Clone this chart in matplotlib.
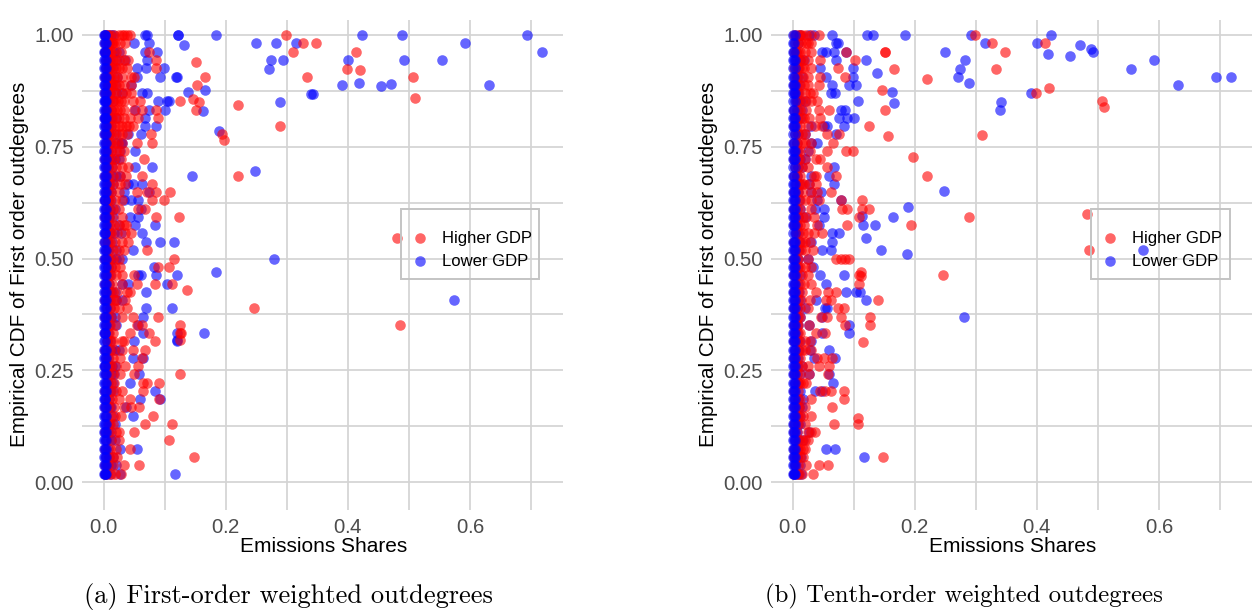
import matplotlib
matplotlib.use("Agg")
import matplotlib.pyplot as plt
from matplotlib.patches import Rectangle
from matplotlib.lines import Line2D

W, H = 1255, 616
cdf_levels = [1.000, 0.981, 0.963, 0.944, 0.926, 0.907, 0.889, 0.870, 0.852, 0.833, 0.815, 0.796, 0.778, 0.759,
              0.741, 0.722, 0.704, 0.685, 0.667, 0.648, 0.630, 0.611, 0.593, 0.574, 0.556, 0.537, 0.519,
              0.500, 0.481, 0.463, 0.444, 0.426, 0.407, 0.389, 0.370, 0.352, 0.333, 0.315, 0.296, 0.278,
              0.259, 0.241, 0.222, 0.204, 0.185, 0.167, 0.148, 0.130, 0.111, 0.093, 0.074, 0.056, 0.037, 0.019]
x_ticks = [0.0, 0.2, 0.4, 0.6]
y_ticks = [0.00, 0.25, 0.50, 0.75, 1.00]
y_tick_labels = ["0.00", "0.25", "0.50", "0.75", "1.00"]

# panel (a): the dense cloud, row by row, highest CDF level first
a_high = [
 [.001,.004,.007,.01,.016,.024,.03,.032,.037,.043],
 [.002,.006,.008,.011,.013,.015,.018,.026,.035],
 [.001,.003,.005,.007,.01,.012,.02,.028,.073],
 [.004,.007,.01,.014,.018,.024,.032,.04,.086],
 [.003,.006,.01,.013,.02,.025,.029,.038,.086],
 [.002,.005,.009,.012,.016,.022,.03,.045,.05],
 [.005,.008,.012,.015,.02,.024,.033,.045],
 [.002,.006,.01,.014,.02,.029,.036,.045],
 [.004,.008,.014,.018,.023,.028,.032,.059,.047],
 [.003,.007,.012,.016,.021,.027,.032,.05,.062,.086],
 [.002,.009,.013,.02,.024,.032,.043,.056,.088],
 [.004,.008,.011,.018,.024,.03,.036,.048,.041],
 [.001,.005,.008,.012,.017,.03,.037,.077,.025],
 [.003,.006,.011,.016,.023,.054,.079,.03],
 [.003,.006,.012,.02,.033,.024],
 [.002,.007,.012,.016,.028,.066],
 [.004,.007,.013,.02,.04,.03],
 [.001,.009,.014,.026,.062,.036],
 [.005,.01,.015,.026,.035,.078],
 [.003,.008,.012,.025,.054,.07,.086,.108],
 [.002,.006,.01,.018,.078,.099,.03],
 [.004,.009,.014,.024,.056,.067],
 [.001,.008,.013,.03,.086,.123],
 [.005,.01,.017,.032,.036,.025],
 [.003,.008,.012,.034,.045,.022],
 [.002,.007,.01,.029,.04,.018],
 [.004,.009,.015,.032,.07,.024],
 [.001,.006,.009,.024,.114,.015],
 [.006,.011,.018,.026,.089,.107],
 [.003,.007,.012,.029,.02,.05],
 [.002,.008,.013,.054,.084,.111,.03],
 [.004,.009,.014,.037,.043,.022],
 [.001,.01,.016,.034,.02],
 [.005,.01,.016,.037,.024],
 [.002,.007,.012,.089,.048,.029],
 [.003,.01,.018,.054,.062,.125],
 [.001,.009,.015,.042,.073,.126],
 [.005,.011,.015,.029,.084,.032],
 [.002,.01,.017,.029,.047,.067],
 [.004,.009,.014,.026,.062],
 [.001,.007,.012,.034,.055,.02],
 [.003,.009,.015,.026,.049,.125],
 [.005,.011,.016,.064,.07,.09],
 [.002,.011,.02,.029,.064],
 [.004,.009,.013,.024,.042,.09],
 [.001,.008,.016,.032,.058,.045],
 [.003,.011,.018,.081,.028],
 [.006,.01,.014,.067,.111],
 [.002,.009,.019,.05,.024],
 [.004,.012,.025,.107],
 [.001,.01,.02,.042],
 [.003,.008,.021,.015],
 [.002,.006,.015,.032,.057],
 [.001,.005,.012,.028,.018],
]
a_low = [
 [0,.001,.002,.006,.012,.015,.067,.07,.121],
 [0,.002,.003,.008,.049,.074],
 [0,.001,.002,.007,.016,.024,.067,.087],
 [0,.002,.004,.009,.034,.071,.02],
 [0,.001,.003,.008,.014,.054,.069,.098],
 [0,.002,.003,.009,.054,.092,.118,.022],
 [0,.001,.002,.006,.012,.018,.045],
 [0,.002,.004,.01,.03,.062,.07,.02],
 [0,.001,.002,.003,.007,.014,.089,.104,.107],
 [0,.001,.003,.005,.011,.051,.074,.1],
 [0,.001,.002,.003,.006,.011,.067,.02],
 [0,.001,.003,.007,.012,.067,.085],
 [0,.002,.004,.008,.04,.06,.02],
 [0,.002,.004,.01,.02,.028,.03],
 [0,.001,.003,.006,.051,.026,.012],
 [0,.001,.003,.008,.012,.024,.018],
 [0,.002,.004,.007,.051,.078,.013],
 [0,.001,.003,.005,.013,.026,.02],
 [0,.001,.003,.008,.014,.04,.048,.062],
 [0,.002,.003,.006,.012,.032,.074],
 [0,.001,.002,.006,.011,.045,.055,.032],
 [0,.002,.004,.01,.018,.06],
 [0,.001,.003,.008,.014,.043,.056],
 [0,.002,.003,.008,.024,.084,.051],
 [0,.001,.002,.01,.017,.062,.028],
 [0,.002,.005,.013,.069,.092,.114],
 [0,.001,.003,.007,.048,.02],
 [0,.001,.003,.011,.02,.03],
 [0,.002,.004,.006,.012,.082],
 [0,.001,.004,.01,.086,.12,.06,.056],
 [0,.002,.004,.009,.104,.04,.029],
 [0,.001,.003,.012,.069,.018],
 [0,.002,.004,.007,.02,.03],
 [0,.001,.004,.01,.069,.112],
 [0,.001,.003,.012,.064,.018],
 [0,.002,.003,.008,.055,.02],
 [0,.001,.002,.006,.12,.064],
 [0,.002,.005,.01,.049,.12],
 [0,.001,.003,.012,.024,.018],
 [0,.002,.003,.007,.064,.048],
 [0,.001,.002,.009,.018,.013],
 [0,.002,.004,.011,.058,.017],
 [0,.001,.003,.007,.042,.014],
 [0,.002,.003,.01,.083,.015],
 [0,.001,.002,.008,.059,.092],
 [0,.001,.004,.012,.036,.01],
 [0,.001,.003,.014,.047],
 [0,.001,.003,.009,.018],
 [0,.002,.004,.006,.012],
 [0,.002,.004,.011,.018],
 [0,.001,.004,.007,.027,.054],
 [0,.001,.003,.008,.015],
 [0,.002,.003,.005,.012,.02],
 [0,.001,.002,.004,.01,.027,.117],
]
# panel (a): points away from the cloud
a_high_tail_x = [.298,.326,.348,.309,.413,.420,.398,.332,.151,.166,.152,.507,.510,.146,.155,.124,.151,.219,.288,.193,.197,.219,.480,.485,.246,.125,.125,.136,.147]
a_high_tail_y = [1.0,.981,.981,.963,.963,.922,.925,.907,.940,.905,.889,.907,.860,.857,.849,.852,.832,.843,.796,.778,.764,.685,.545,.352,.389,.333,.318,.430,.056]
a_low_tail_x = [.122,.184,.131,.423,.489,.693,.591,.718,.249,.282,.315,.273,.293,.271,.400,.491,.554,.390,.417,.454,.471,.630,.339,.342,.289,.119,.137,.165,.162,.189,.248,.145,.279,.184,.574,.164,.120]
a_low_tail_y = [1.0,1.0,.978,1.0,1.0,1.0,.981,.963,.981,.981,.981,.944,.944,.925,.944,.944,.944,.889,.893,.886,.890,.889,.869,.868,.851,.907,.872,.878,.829,.786,.695,.685,.500,.470,.407,.333,.318]

# panel (b)
b_high = [
 [.002,.005,.01,.015,.022,.03,.043,.012],
 [.004,.008,.013,.021,.029,.025],
 [.002,.005,.008,.012,.02,.087,.03],
 [.005,.009,.012,.017,.024,.045,.101],
 [.001,.006,.01,.014,.018,.03,.073],
 [.004,.009,.016,.024,.045,.086],
 [.002,.007,.012,.018,.025,.042],
 [.003,.007,.01,.02,.033,.028],
 [.005,.009,.015,.029,.04,.022],
 [.002,.008,.012,.022,.043,.059],
 [.004,.008,.014,.018,.026,.045],
 [.001,.006,.012,.024,.048,.036],
 [.003,.009,.014,.02,.056,.075],
 [.002,.007,.014,.03,.066,.02],
 [.004,.008,.012,.028,.056,.087,.099],
 [.001,.006,.01,.02,.037,.045],
 [.003,.009,.015,.024,.055],
 [.002,.007,.012,.034,.07,.037],
 [.005,.01,.018,.026,.038,.014],
 [.001,.008,.014,.029,.063,.04],
 [.004,.011,.02,.043,.078,.03],
 [.002,.006,.012,.03,.08,.089,.113],
 [.003,.009,.022,.108,.016,.035],
 [.001,.007,.012,.018,.089,.04],
 [.005,.01,.016,.034,.048,.024],
 [.002,.01,.02,.028,.015],
 [.004,.008,.013,.032,.02],
 [.001,.006,.009,.025,.078,.091,.07,.086],
 [.003,.008,.012,.02,.03],
 [.002,.007,.014,.108,.024],
 [.004,.011,.018,.108,.03],
 [.001,.008,.014,.037,.057,.07],
 [.003,.008,.013,.062,.054,.028],
 [.002,.006,.011,.073,.084,.024],
 [.005,.009,.012,.046,.055,.078],
 [.001,.006,.009,.026,.086],
 [.003,.008,.012,.037,.053],
 [.002,.006,.01,.028,.02],
 [.004,.009,.014,.03,.02],
 [.001,.007,.012,.064,.051,.04],
 [.003,.009,.059,.043,.025,.015],
 [.002,.007,.011,.026,.058],
 [.004,.008,.012,.021,.016],
 [.001,.008,.045,.053,.062,.084],
 [.003,.008,.012,.029,.083],
 [.002,.006,.01,.064,.02],
 [.004,.009,.012,.029,.016],
 [.001,.009,.067,.107,.02],
 [.002,.007,.024,.036,.03],
 [.003,.01,.015,.024,.02],
 [.001,.008,.012,.02,.016],
 [.002,.007,.016,.012],
 [.003,.008,.021,.042,.057],
 [.001,.006,.015,.033,.01],
]
b_low = [
 [0,.003,.012,.026,.034,.064],
 [0,.002,.008,.07,.073],
 [0,.002,.005,.048,.054,.067,.087],
 [0,.001,.003,.012,.071,.018],
 [0,.003,.009,.045,.098],
 [0,.002,.006,.054,.098,.014],
 [0,.002,.004,.01,.064,.092,.104],
 [0,.001,.003,.008,.062,.069],
 [0,.003,.006,.012,.107,.02],
 [0,.002,.006,.078,.086,.015],
 [0,.001,.004,.011,.075,.089,.1],
 [0,.001,.003,.029,.051,.083,.055],
 [0,.003,.008,.07,.02],
 [0,.002,.006,.04,.03],
 [0,.001,.004,.007,.025],
 [0,.001,.003,.012,.02],
 [0,.003,.009,.068,.015],
 [0,.002,.006,.059,.03],
 [0,.002,.004,.011,.067,.026],
 [0,.001,.003,.008,.046,.03],
 [0,.001,.003,.01,.079,.04],
 [0,.002,.004,.012,.051,.036],
 [0,.002,.004,.009,.051,.02],
 [0,.001,.003,.006,.043,.114],
 [0,.003,.005,.008,.075,.064],
 [0,.002,.004,.012,.064,.03],
 [0,.002,.004,.01,.062,.048],
 [0,.001,.003,.009,.025],
 [0,.001,.003,.007,.032],
 [0,.002,.004,.012,.044,.084],
 [0,.002,.004,.008,.054],
 [0,.001,.004,.01,.087,.103],
 [0,.001,.003,.012,.037],
 [0,.002,.003,.006,.056,.052,.02],
 [0,.002,.004,.011,.048],
 [0,.001,.004,.009,.092,.027],
 [0,.001,.003,.007,.048,.092],
 [0,.002,.004,.012,.029],
 [0,.002,.004,.01,.059,.028],
 [0,.001,.003,.008,.069,.035],
 [0,.001,.003,.007,.015],
 [0,.002,.004,.011,.026,.059],
 [0,.002,.004,.009,.066],
 [0,.001,.004,.012,.036,.047],
 [0,.001,.003,.008,.016],
 [0,.002,.004,.01,.014],
 [0,.002,.004,.007,.012],
 [0,.001,.004,.009,.011],
 [0,.001,.003,.006,.027],
 [0,.002,.003,.008,.017],
 [0,.001,.003,.006,.054,.069],
 [0,.001,.003,.007,.013],
 [0,.002,.003,.005,.011],
 [0,.001,.002,.004,.009,.013],
]
b_high_tail_x = [.298,.326,.348,.413,.332,.151,.151,.166,.219,.146,.151,.124,.155,.309,.420,.398,.507,.510,.197,.219,.288,.194,.482,.485,.246,.139,.127,.127,.114,.113,.124,.111,.111,.147,.107]
b_high_tail_y = [1.0,.981,.963,.981,.925,.961,.961,.924,.902,.878,.833,.796,.773,.777,.882,.870,.852,.839,.726,.685,.592,.574,.600,.518,.462,.407,.370,.351,.313,.630,.610,.470,.461,.056,.144]
b_low_tail_x = [.122,.131,.184,.292,.423,.315,.400,.249,.471,.417,.454,.489,.491,.591,.554,.693,.718,.630,.282,.273,.271,.289,.390,.341,.339,.119,.137,.162,.165,.248,.189,.164,.134,.113,.120,.145,.186,.574,.280,.120,.109,.117]
b_low_tail_y = [1.0,1.0,1.0,1.0,1.0,.981,.981,.963,.978,.957,.954,.969,.963,.944,.925,.907,.907,.889,.944,.925,.907,.893,.870,.849,.833,.944,.914,.872,.848,.652,.616,.592,.574,.594,.545,.518,.510,.518,.370,.408,.424,.056]

legend_labels = ["Higher GDP", "Lower GDP"]
RED, BLUE = "#ff0000", "#0000ff"
SANS = ["Liberation Sans", "DejaVu Sans"]
DOT = 58
fig = plt.figure(figsize=(W / 100, H / 100), dpi=100, facecolor="white")


def panel(left, right, high, low, high_tail, low_tail, leg_left, leg_right, marker_x, text_x, caption, cap_x, cap_size):
    top, bottom = 20, 510
    ax = fig.add_axes([left / W, 1 - bottom / H, (right - left) / W, (bottom - top) / H])
    ax.set_xlim(-0.036, 0.752)
    ax.set_ylim((482 - bottom) / 447, (482 - top) / 447)
    for s in ax.spines.values():
        s.set_visible(False)
    ax.set_xticks(x_ticks)
    ax.set_xticks([0.1, 0.3, 0.5, 0.7], minor=True)
    ax.set_yticks(y_ticks, y_tick_labels)
    ax.set_yticks([0.125, 0.375, 0.625, 0.875], minor=True)
    ax.grid(True, which="both", color="#d4d4d4", lw=1.25)
    ax.set_axisbelow(True)
    ax.tick_params(which="both", length=0)
    ax.tick_params(axis="both", which="major", labelsize=14.7, labelcolor="#4d4d4d", pad=6)
    for t in ax.get_xticklabels() + ax.get_yticklabels():
        t.set_family(SANS)

    def dots(xs, ys, col, z):
        ax.scatter(xs, ys, s=DOT, c=col, alpha=0.6, linewidths=0, zorder=z)

    low_x = [v for row in low for v in row]
    low_y = [lv for lv, row in zip(cdf_levels, low) for _ in row]
    high_x = [v for row in high for v in row]
    high_y = [lv for lv, row in zip(cdf_levels, high) for _ in row]
    outer = [(x, y) for x, y in zip(low_x, low_y) if x >= 0.005]
    core = [(x, y) for x, y in zip(low_x, low_y) if x < 0.005]
    dots([p[0] for p in outer], [p[1] for p in outer], BLUE, 3)
    dots(*low_tail, BLUE, 3)
    dots(high_x, high_y, RED, 3.1)
    dots(*high_tail, RED, 3.1)
    dots([p[0] for p in core], [p[1] for p in core], BLUE, 3.2)

    ax.add_patch(Rectangle((leg_left / W, 1 - 279 / H), (leg_right - leg_left) / W, 70 / H,
                           transform=fig.transFigure, fill=False, ec="#c4c4c4", lw=1.4, zorder=4))
    for col, lab, py in zip((RED, BLUE), legend_labels, (238, 261)):
        fig.add_artist(Line2D([marker_x / W], [1 - py / H], transform=fig.transFigure, ls="", marker="o",
                              ms=7.6, mec="none", mfc=col, alpha=0.6, zorder=5))
        fig.text(text_x / W, 1 - py / H, lab, family=SANS, fontsize=12, color="black", va="center", zorder=5)
    fig.text((left + 241.5) / W, 1 - 547 / H, "Emissions Shares", family=SANS, fontsize=15, ha="center", va="center")
    fig.text((left - 62) / W, 1 - 264 / H, "Empirical CDF of First order outdegrees", family=SANS, fontsize=14.9,
             rotation=90, ha="center", va="center")
    fig.text(cap_x / W, 1 - 596 / H, caption, family=["cmr10", "DejaVu Serif"], fontsize=cap_size, ha="center", va="center")


plt.rcParams["axes.formatter.use_mathtext"] = True
panel(82, 563, a_high, a_low, (a_high_tail_x, a_high_tail_y), (a_low_tail_x, a_low_tail_y),
      401, 539, 420, 442, "(a) First-order weighted outdegrees", 288, 19)
panel(771, 1252, b_high, b_low, (b_high_tail_x, b_high_tail_y), (b_low_tail_x, b_low_tail_y),
      1091, 1230, 1110, 1132, "(b) Tenth-order weighted outdegrees", 964, 17.8)
fig.savefig("out.png", dpi=100)
